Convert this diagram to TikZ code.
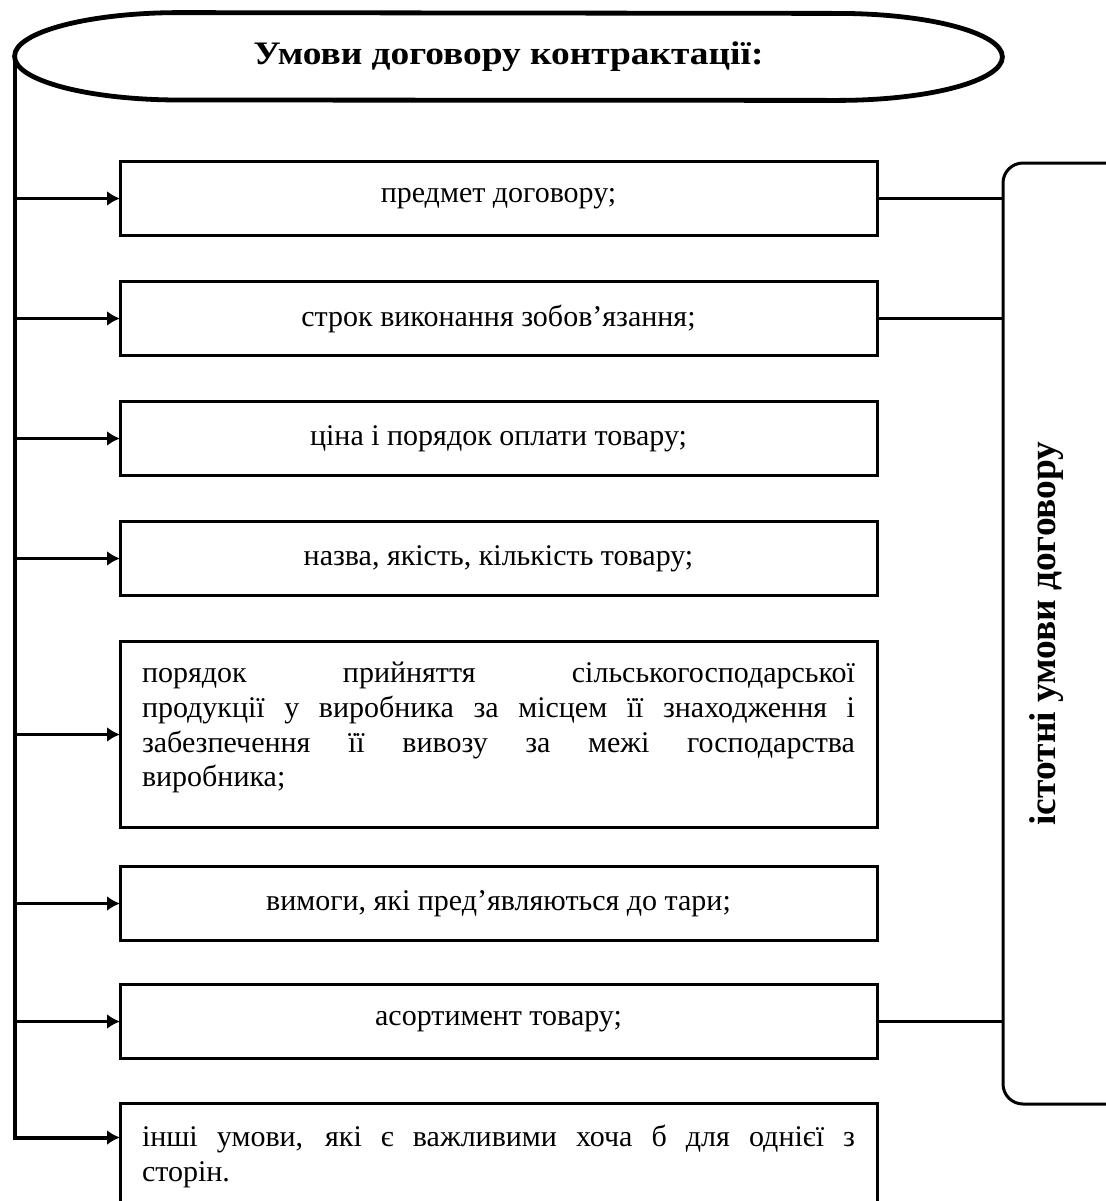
\documentclass[tikz,border=0pt]{standalone}
\usepackage{fontspec}
\setmainfont{Liberation Serif}
\newfontfamily\headserif{Liberation Serif}[FakeStretch=1.14]
\usetikzlibrary{positioning,arrows.meta,calc}
\sloppy
\newcommand{\tailpad}{\rule[-10pt]{0pt}{10pt}}
\tikzset{
  cond/.style   ={draw, line width=1.5pt, minimum width=378.5pt, minimum height=37pt,
                  inner xsep=11pt, inner ysep=3pt, outer sep=0pt, align=center,
                  font=\fontsize{15}{17.35}\selectfont},
  condpar/.style={cond, text width=356.5pt, align=justify},
  headbox/.style={inner sep=0pt, minimum width=493.5pt, minimum height=43.5pt,
                  font=\headserif\bfseries\fontsize{16.4}{20}\selectfont},
  headline/.style={line width=2.4pt},
  sidebox/.style={draw, line width=1.5pt, rounded corners=10pt, anchor=north west,
                  minimum width=70pt, minimum height=470.5pt, outer sep=0pt},
  sidetext/.style={rotate=90, font=\bfseries\fontsize{18.7}{22}\selectfont},
  ar/.style     ={-{Latex[length=6.5pt,width=7.5pt]}, line width=1.6pt},
  spine/.style  ={ar, line width=2pt},
  ln/.style     ={line width=1.5pt},
}

\begin{document}
\begin{tikzpicture}[x=1pt,y=1pt]
\useasboundingbox (0,0) rectangle (552.5,-600.5);

\node[headbox] (head) at (254.25,-28.25) {Умови договору контрактації:};
\draw[headline] (head.west)
  arc[start angle=180,end angle=270,x radius=82.5,y radius=21.75]
  -- ($(head.south east)+(-82.5,0)$)
  arc[start angle=270,end angle=450,x radius=82.5,y radius=21.75]
  -- ($(head.north west)+(82.5,0)$)
  arc[start angle=90,end angle=180,x radius=82.5,y radius=21.75] -- cycle;

\node[cond] (b1) at (249.25,-99.25) {предмет договору;};
\node[cond,below=23pt of b1] (b2) {строк виконання зобов’язання;};
\node[cond,below=23pt of b2] (b3) {ціна і порядок оплати товару;};
\node[cond,below=23pt of b3] (b4) {назва, якість, кількість товару;};
\node[condpar,below=23pt of b4,minimum height=93pt] (b5)
  {порядок прийняття сільськогосподарської\linebreak
   продукції у виробника за місцем її знаходження і\linebreak
   забезпечення її вивозу за межі господарства\linebreak
   виробника;\tailpad};
\node[cond,below=19.5pt of b5] (b6) {вимоги, які пред’являються до тари;};
\node[cond,below=22pt of b6] (b7) {асортимент товару;};
\node[condpar,below=22.5pt of b7,minimum height=59.5pt] (b8)
  {інші умови, які є важливими хоча б для однієї з\linebreak
   сторін.\tailpad};
\coordinate (b8in) at ($(b8.north west)+(0,-17)$);

\node[sidebox] (side) at (501.5,-81.5) {};
\node[sidetext] (sidelbl) at ($(side.west)+(22,0)$) {істотні умови договору};

% spine and arrows
\draw[spine] (head.west) |- (b8in);
\foreach \b in {b1,b2,b3,b4,b5,b6,b7}
  \draw[ar] (head.west |- \b.west) -- (\b.west);
\foreach \b in {b1,b2,b7}
  \draw[ln] (\b.east) -- (\b.east -| side.west);
\end{tikzpicture}
\end{document}
